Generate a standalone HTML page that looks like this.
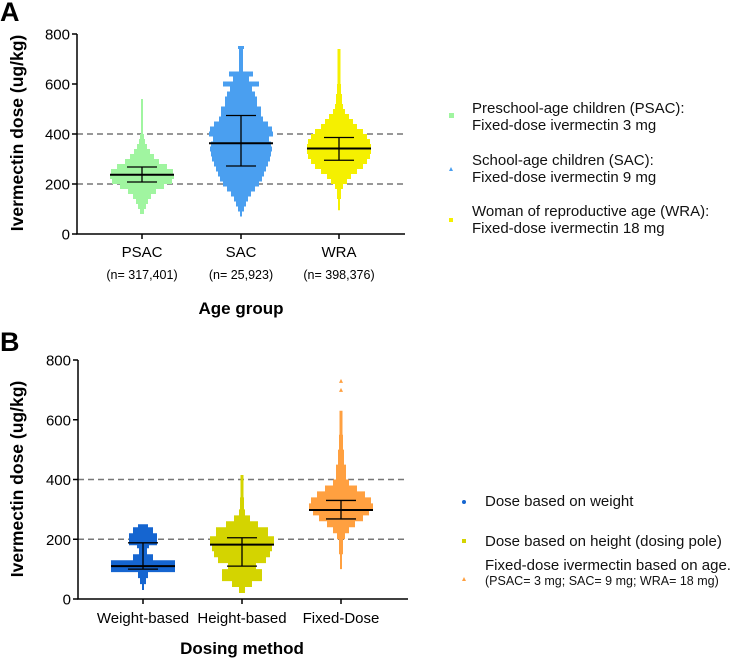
<!DOCTYPE html>
<html><head><meta charset="utf-8">
<style>
html,body{margin:0;padding:0;background:#fff;}
svg{display:block;font-family:"Liberation Sans",Arial,sans-serif;}
</style></head>
<body>
<svg id="chart" width="733" height="659" viewBox="0 0 733 659" xmlns="http://www.w3.org/2000/svg">
<text x="0" y="21" font-size="27" font-weight="bold">A</text>
<text x="0" y="351" font-size="27" font-weight="bold">B</text>
<text transform="translate(23,133) rotate(-90)" text-anchor="middle" font-size="17.5" font-weight="bold">Ivermectin dose (ug/kg)</text>
<text transform="translate(23,479) rotate(-90)" text-anchor="middle" font-size="17.5" font-weight="bold">Ivermectin dose (ug/kg)</text>
<text x="241" y="314" text-anchor="middle" font-size="17" font-weight="bold">Age group</text>
<text x="242" y="654" text-anchor="middle" font-size="17" font-weight="bold">Dosing method</text>
<g id="ga"></g><g id="gb"></g>
<g font-size="15" fill="#111">
<rect x="449" y="113" width="5" height="5" fill="#a0f5a0"/>
<text x="472" y="113">Preschool-age children (PSAC):</text>
<text x="472" y="130">Fixed-dose ivermectin 3 mg</text>
<polygon points="451,167 453,171 449,171" fill="#4a9ff0"/>
<text x="472" y="165">School-age children (SAC):</text>
<text x="472" y="182">Fixed-dose ivermectin 9 mg</text>
<rect x="449" y="218" width="4" height="4" fill="#f5f000"/>
<text x="472" y="216">Woman of reproductive age (WRA):</text>
<text x="472" y="233">Fixed-dose ivermectin 18 mg</text>
</g>
<g font-size="15" fill="#111">
<circle cx="464" cy="502" r="2" fill="#1565d0"/>
<text x="485" y="506">Dose based on weight</text>
<rect x="462" y="539" width="4" height="4" fill="#d4d400"/>
<text x="485" y="546">Dose based on height (dosing pole)</text>
<polygon points="464,577 466,581 462,581" fill="#ffa040"/>
<text x="485" y="570">Fixed-dose ivermectin based on age.</text>
<text x="485" y="585" font-size="12.5">(PSAC= 3 mg; SAC= 9 mg; WRA= 18 mg)</text>
</g>
</svg>
<script>
const ticks=[0,200,400,600,800];
const refLines=[200,400];
// Panel A
const catsA=["PSAC","SAC","WRA"];
const nA=["(n= 317,401)","(n= 25,923)","(n= 398,376)"];
const colorsA=["#a0f5a0","#4a9ff0","#f5f000"];
const meanA=[237,363,342];
const errLoA=[208,272,295];
const errHiA=[268,474,386];
const binsPSAC=[[80,2],[100,4],[120,6],[140,9],[160,14],[180,22],[200,30],[220,32],[240,31],[260,25],[280,17],[300,12],[320,8],[340,5],[360,3],[380,2],[400,1],[540,1]];
const binsSAC=[[70,1],[90,3],[110,5],[130,7],[150,10],[170,14],[190,18],[210,21],[230,23],[250,25],[270,27],[290,29],[310,30],[330,31],[350,30],[370,28],[390,32],[410,31],[430,27],[450,22],[470,20],[490,20],[510,16],[530,16],[550,14],[570,11],[590,18],[610,8],[630,12],[650,2],[740,3],[752,3]];
const binsWRA=[[95,1],[140,2],[180,4],[200,8],[220,12],[240,18],[260,24],[280,28],[300,31],[320,32],[340,32],[360,31],[380,28],[400,24],[420,18],[440,14],[460,10],[480,6],[500,4],[520,3],[560,2],[600,1.5],[740,1]];
// Panel B
const catsB=["Weight-based","Height-based","Fixed-Dose"];
const colorsB=["#1565d0","#d4d400","#ffa040"];
const meanB=[110,182,298];
const errLoB=[100,110,268];
const errHiB=[188,205,330];
const binsW=[[30,1],[50,3],[70,5],[90,32],[130,10],[150,4],[170,6],[180,14],[200,14],[220,10],[240,5],[250,2]];
const binsH=[[20,3],[40,10],[60,20],[100,14],[120,24],[140,28],[160,30],[180,32],[210,26],[240,16],[260,8],[280,3],[300,2],[340,1.5],[415,1.5]];
const binsF=[[100,1],[150,2],[200,4],[220,8],[240,14],[260,22],[280,28],[300,32],[320,30],[340,24],[360,16],[380,8],[400,5],[450,3],[500,2],[550,1.5],[630,1]];
const outliersF=[700,730];

const NS="http://www.w3.org/2000/svg";
function mk(parent,tag,attrs){const e=document.createElementNS(NS,tag);for(const k in attrs)e.setAttribute(k,attrs[k]);parent.appendChild(e);return e;}

function panel(g,cfg){
  const yS=v=>cfg.y0-(v/800)*(cfg.y0-cfg.y800);
  const xS=i=>cfg.cx[i];
  refLines.forEach(r=>{const l=mk(g,'line',{x1:cfg.ax,x2:cfg.axEnd,y1:yS(r),y2:yS(r),stroke:'#777','stroke-width':1.5,'stroke-dasharray':'6,4'});
    
    });
  cfg.bins.forEach((b,i)=>{
    const cx=xS(i);let right=[],left=[];
    for(let k=0;k<b.length-1;k++){const w=b[k][1];const ya=yS(b[k][0]),yb=yS(b[k+1][0]);
      right.push([cx+w,ya],[cx+w,yb]);left.push([cx-w,ya],[cx-w,yb]);}
    const pts=right.concat(left.reverse()).map(p=>p[0].toFixed(1)+','+p[1].toFixed(1)).join(' ');
    const p=mk(g,'polygon',{points:pts,fill:cfg.colors[i]});
    
    
    const m=mk(g,'line',{x1:cx-32,x2:cx+32,y1:yS(cfg.mean[i]),y2:yS(cfg.mean[i]),stroke:'#000','stroke-width':2});
    
    
    const e=mk(g,'path',{d:`M${cx},${yS(cfg.lo[i])}V${yS(cfg.hi[i])}M${cx-15},${yS(cfg.lo[i])}H${cx+15}M${cx-15},${yS(cfg.hi[i])}H${cx+15}`,stroke:'#000','stroke-width':1.3,fill:'none'});
    
    
    const t=mk(g,'text',{x:cx,y:cfg.y0+cfg.labOff,'text-anchor':'middle','font-size':15});
    t.textContent=cfg.cats[i];
    
    
    mk(g,'line',{x1:cx,x2:cx,y1:cfg.y0,y2:cfg.y0+5,stroke:'#000','stroke-width':1.5});
    if(cfg.n){const n=mk(g,'text',{x:cx,y:cfg.y0+45,'text-anchor':'middle','font-size':12.5});
      n.textContent=cfg.n[i];
      
      }
  });
  if(cfg.out){cfg.out.forEach(v=>{const cx=xS(2),y=yS(v);
    const o=mk(g,'polygon',{points:`${cx},${y-2} ${cx+2},${y+2} ${cx-2},${y+2}`,fill:cfg.colors[2]});
    
    });}
  const ax=mk(g,'path',{d:`M${cfg.ax},${yS(800)}V${cfg.y0}H${cfg.axEnd}`,stroke:'#000','stroke-width':1.5,fill:'none'});
  
  
  ticks.forEach(t=>{mk(g,'line',{x1:cfg.ax-5,x2:cfg.ax,y1:yS(t),y2:yS(t),stroke:'#000','stroke-width':1.5});
    const tx=mk(g,'text',{x:cfg.ax-7,y:yS(t)+5.5,'text-anchor':'end','font-size':15});
    tx.textContent=t;
    
    });
}
panel(document.getElementById('ga'),{y0:234,y800:34,ax:77,axEnd:405,labOff:23,cx:[142,241,339],cats:catsA,n:nA,colors:colorsA,mean:meanA,lo:errLoA,hi:errHiA,bins:[binsPSAC,binsSAC,binsWRA]});
panel(document.getElementById('gb'),{y0:599,y800:360,ax:78,axEnd:408,labOff:24,cx:[143,242,341],cats:catsB,colors:colorsB,mean:meanB,lo:errLoB,hi:errHiB,bins:[binsW,binsH,binsF],out:outliersF});
</script>
</body></html>
